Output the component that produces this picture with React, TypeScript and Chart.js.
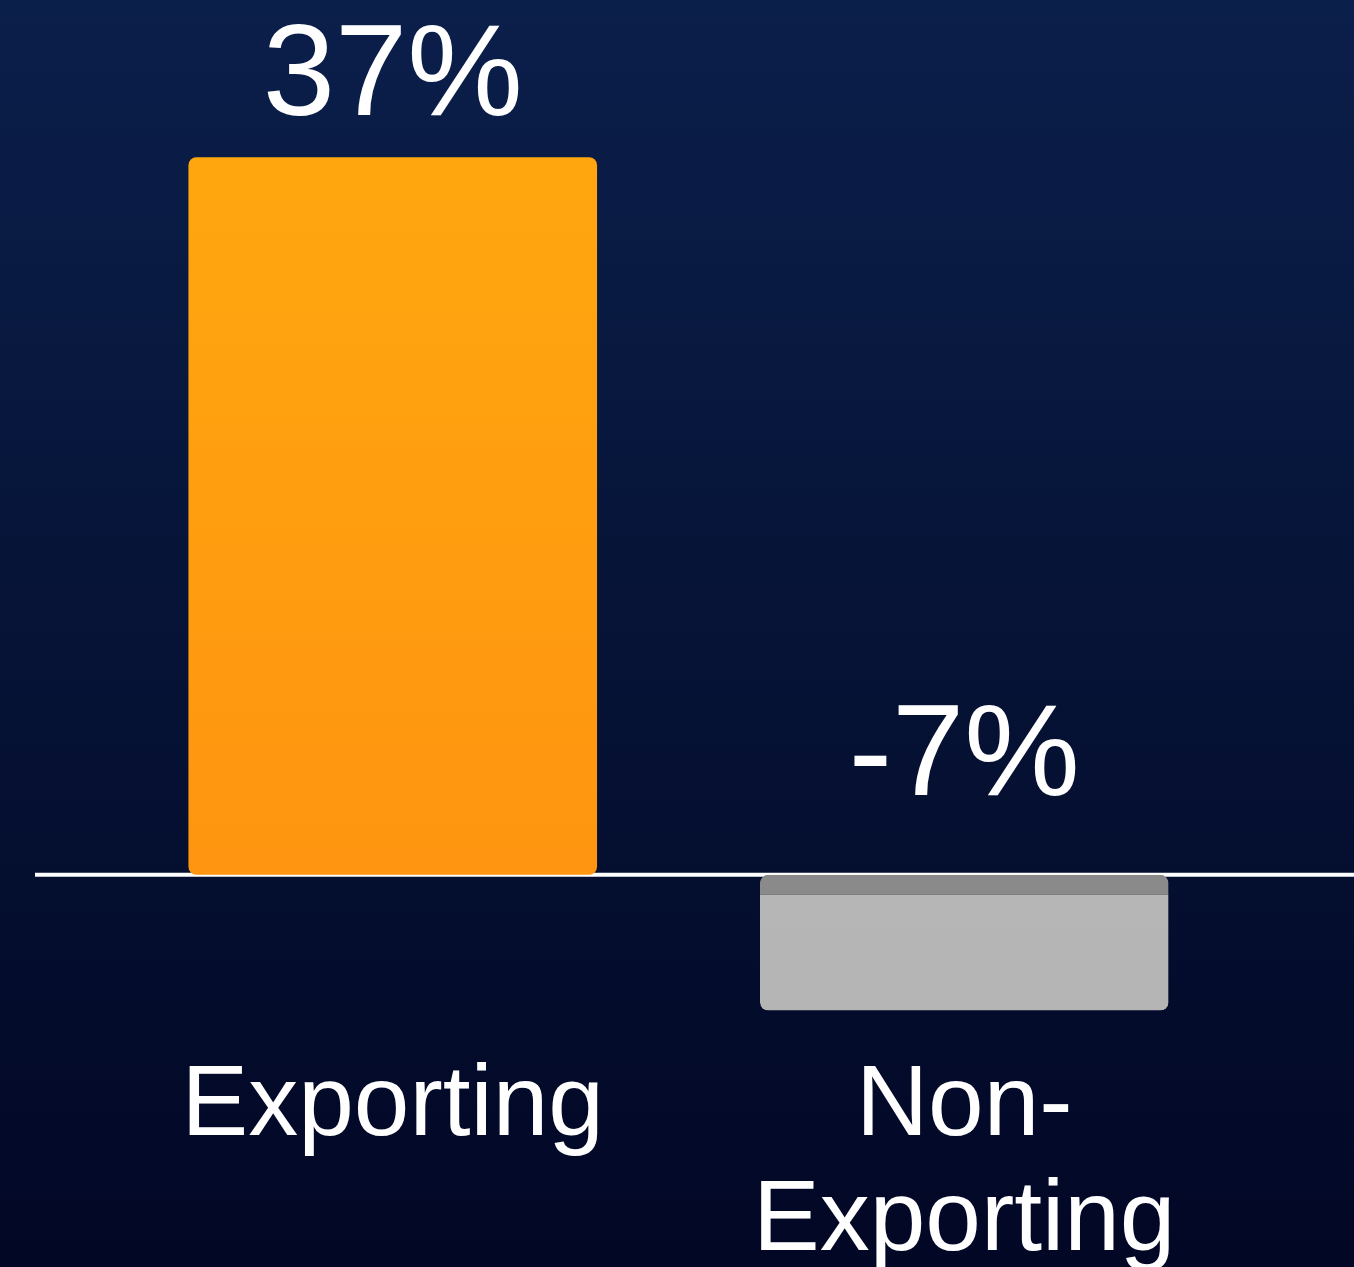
import React, { useEffect, useRef } from "react";
import { Chart, registerables } from "chart.js";

Chart.register(...registerables);

const categories: (string | string[])[] = ["Exporting", ["Non-", "Exporting"]];
const values: number[] = [37, -7];
const valueLabels: string[] = ["37%", "-7%"];
const yMin = -8;
const yMax = 40;

const FONT = "'Liberation Sans', Helvetica, Arial, sans-serif";

const backgroundPlugin = {
  id: "bgPlugin",
  beforeDraw(chart: any) {
    const { ctx, width, height } = chart;
    const g = ctx.createLinearGradient(0, 0, 0, height);
    g.addColorStop(0, "#0b1f4b");
    g.addColorStop(0.5, "#061336");
    g.addColorStop(1, "#020725");
    ctx.save();
    ctx.fillStyle = g;
    ctx.fillRect(0, 0, width, height);
    ctx.restore();
  },
  beforeDatasetsDraw(chart: any) {
    const { ctx, width } = chart;
    const y = chart.scales.y.getPixelForValue(0);
    ctx.save();
    ctx.strokeStyle = "#ffffff";
    ctx.lineWidth = 4;
    ctx.beginPath();
    ctx.moveTo(35, y);
    ctx.lineTo(width, y);
    ctx.stroke();
    ctx.restore();
  },
  afterDatasetsDraw(chart: any) {
    const { ctx } = chart;
    const meta = chart.getDatasetMeta(0);
    const yScale = chart.scales.y;
    const zero = yScale.getPixelForValue(0);
    ctx.save();
    ctx.fillStyle = "#ffffff";
    ctx.font = `130px ${FONT}`;
    ctx.textAlign = "center";
    ctx.textBaseline = "alphabetic";
    meta.data.forEach((bar: any, i: number) => {
      const v = values[i];
      const top = Math.min(yScale.getPixelForValue(v), zero);
      const y = v >= 0 ? top - 42 : top - 80;
      ctx.fillText(valueLabels[i], bar.x, y);
    });
    ctx.restore();
  },
};

function barFill(ctx: any) {
  const chart = ctx.chart;
  const area = chart.chartArea;
  if (!area) return "#ff9d10";
  const i = ctx.dataIndex;
  const c = chart.ctx;
  if (i === 0) {
    const g = c.createLinearGradient(0, area.top, 0, area.bottom);
    g.addColorStop(0, "#ffa80f");
    g.addColorStop(1, "#ff9110");
    return g;
  }
  const g = c.createLinearGradient(0, area.top, 0, area.bottom);
  g.addColorStop(0, "#c4c4c4");
  g.addColorStop(1, "#b4b4b4");
  return g;
}

export default function App() {
  const canvasRef = useRef<HTMLCanvasElement | null>(null);

  useEffect(() => {
    document.body.style.margin = "0";
    document.body.style.overflow = "hidden";
    const canvas = canvasRef.current;
    if (!canvas) return;
    const chart = new Chart(canvas, {
      type: "bar",
      data: {
        labels: categories,
        datasets: [
          {
            data: values,
            backgroundColor: barFill as any,
            borderColor: ["rgba(0,0,0,0)", "#8a8a8a"],
            borderWidth: [
              0,
              { top: 20, left: 0, right: 0, bottom: 0 },
            ] as any,
            borderSkipped: false,
            borderRadius: 8,
            barPercentage: 0.715,
            categoryPercentage: 1,
          },
        ],
      },
      options: {
        responsive: true,
        maintainAspectRatio: false,
        animation: false,
        layout: { padding: { top: 99, left: 107, right: 104, bottom: 0 } },
        plugins: {
          legend: { display: false },
          tooltip: { enabled: false },
        },
        scales: {
          x: {
            grid: { display: false },
            border: { display: false },
            ticks: {
              color: "#ffffff",
              font: { family: FONT, size: 100, lineHeight: 1.15 },
              padding: 12,
              maxRotation: 0,
              autoSkip: false,
            },
            afterFit(scale: any) {
              scale.height = 237;
            },
          },
          y: {
            display: false,
            min: yMin,
            max: yMax,
          },
        },
      },
      plugins: [backgroundPlugin],
    });
    return () => chart.destroy();
  }, []);

  return (
    <div style={{ position: "relative", width: 1354, height: 1267 }}>
      <canvas ref={canvasRef} />
    </div>
  );
}
